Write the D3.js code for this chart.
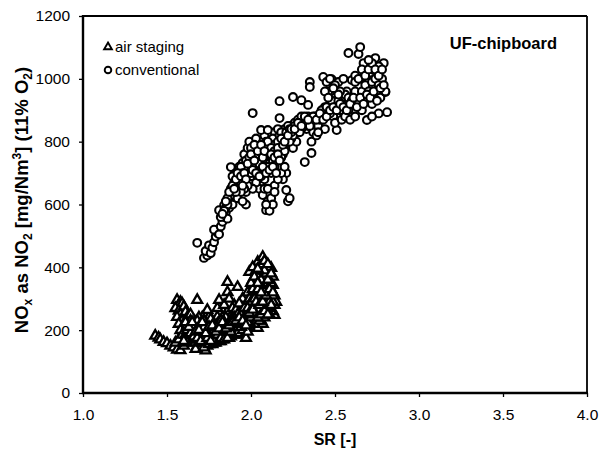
<!DOCTYPE html>
<html><head><meta charset="utf-8">
<script src="https://cdn.jsdelivr.net/npm/d3@7"></script>
<style>body{margin:0;background:#fff}svg{display:block;font-family:"Liberation Sans",Arial,sans-serif}</style>
</head><body><svg id="c" width="600" height="454"></svg>
<script>
const xTicks = [1.0, 1.5, 2.0, 2.5, 3.0, 3.5, 4.0];
const yTicks = [0, 200, 400, 600, 800, 1000, 1200];
const seriesNames = ["air staging", "conventional"];
const chartLabel = "UF-chipboard";

// conventional: [SR, NOx]
const conventional = [
[1.72,430],[1.74,438],[1.73,452],[1.76,445],[1.75,470],[1.68,478],[1.77,462],[1.78,480],[1.79,498],[1.80,510],
[1.78,520],[1.81,505],[1.82,530],[1.81,582],[1.83,545],[1.84,560],[1.85,575],[1.86,555],[1.84,598],[1.87,590],
[1.87,612],[1.88,630],[1.89,600],[1.90,640],[1.88,719],[1.91,660],[1.92,620],[1.93,680],[1.94,700],[1.95,732],
[1.93,650],[1.96,690],[1.97,640],[1.98,710],[1.99,670],[1.96,760],[1.98,780],[2.00,740],[2.00,690],[2.01,891],
[1.99,800],[1.97,600],[1.95,610],
[2.02,760],[2.03,720],[2.04,680],[2.05,790],[2.06,750],[2.07,700],[2.08,820],[2.09,770],[2.10,740],[2.05,650],
[2.07,630],[2.09,582],[2.11,580],[2.10,610],[2.12,800],[2.13,760],[2.14,830],[2.15,780],[2.12,700],[2.14,660],
[2.16,720],[2.17,875],[2.17,929],[2.18,800],[2.19,760],[2.20,840],[2.21,646],[2.22,610],[2.23,620],[2.21,700],
[2.19,680],[2.06,837],[2.03,810],[2.10,837],[2.16,840],
[2.22,790],[2.23,820],[2.24,850],[2.25,942],[2.25,780],[2.26,860],[2.27,800],[2.28,830],[2.29,870],[2.30,932],
[2.30,860],[2.31,859],[2.32,735],[2.33,840],[2.34,917],[2.35,990],[2.35,974],[2.36,764],[2.34,880],[2.36,800],
[2.37,830],[2.38,860],[2.39,820],[2.40,850],[2.41,870],[2.42,880],[2.43,1006],[2.44,910],[2.44,840],
[2.46,960],[2.47,920],[2.48,999],[2.49,880],[2.50,940],[2.51,837],[2.50,860],[2.52,990],[2.53,900],[2.54,870],
[2.55,940],[2.56,880],[2.57,960],[2.58,1082],[2.58,900],[2.59,870],[2.60,996],[2.61,920],[2.62,880],[2.63,950],
[2.64,1079],[2.65,1101],[2.65,1000],[2.66,900],[2.67,1050],[2.68,940],[2.69,869],[2.70,990],[2.71,1020],[2.72,920],
[2.73,1028],[2.74,1066],[2.75,960],[2.76,890],[2.77,940],[2.78,1000],[2.79,1050],[2.80,958],[2.81,894],[2.80,960],
[2.72,880],[2.76,1040],[2.62,1010],[2.55,1000],[2.57,920],[2.47,890],[2.40,830],
[2.00,720],[2.02,700],[2.04,740],[2.06,770],[2.08,730],[2.10,780],[2.11,760],[2.13,790],[2.15,810],[2.17,790],
[2.19,820],[2.20,790],[2.03,670],[2.05,710],[2.01,650],[1.98,660],[1.96,650],[1.94,640],[1.92,660],[2.08,680],
[2.12,740],[2.14,720],[2.18,750],[2.22,830],[2.24,810],[2.26,830],[2.28,850],[2.30,840],[2.32,860],[2.34,850],
[2.36,870],[2.38,880],[2.42,900],[2.45,910],[2.48,930],[2.50,910],[2.52,930],[2.54,920],[2.56,950],[2.58,940],
[2.60,930],[2.62,960],[2.64,920],[2.66,960],[2.68,980],[2.70,960],[2.72,990],[2.74,1000],[2.76,980],
[1.82,560],[1.85,590],[1.86,620],[1.88,650],[1.90,670],[1.91,700],[1.93,720],[1.95,680],[1.97,700],[1.99,720],
[2.01,760],[2.03,750],[2.05,760],[2.07,780],[2.09,800],[2.11,800],[2.13,810],[2.15,760],[2.17,770],[2.19,800],
[2.21,810],[2.23,800],[2.25,820],[2.27,840],[2.29,830],[2.31,870],[2.33,860],[2.35,850],[2.37,880],[2.39,870],
[2.41,890],[2.43,870],[2.45,880],[2.47,900],[2.49,910],[2.51,900],[2.53,920],[2.55,910],[2.57,900],[2.59,920],
[2.61,940],[2.63,910],[2.65,940],[2.67,920],[2.69,950],[2.71,940],[2.73,960],[2.75,930],[2.77,970],[2.79,980],
[1.94,670],[1.96,720],[2.00,700],[2.02,730],[2.04,710],[2.06,720],[2.08,760],[2.10,760],[2.12,770],[2.14,790],
[2.16,800],[2.18,780],[2.20,770],[2.08,650],[2.10,650],[2.12,620],[2.14,640],[2.16,680],[2.18,700],[2.20,720],
[2.13,600],[2.09,600],[2.45,990],[2.47,1000],[2.50,980],[2.53,960],[2.44,960],[2.46,940],[2.52,950],[2.49,970],
[1.89,660],[1.91,640],[1.92,690],[1.94,720],[1.95,700],[1.97,740],[1.99,750],[2.00,780],[2.01,710],[2.02,790],
[2.03,700],[2.04,760],[2.05,730],[2.06,690],[2.07,750],[2.08,790],[2.09,720],[2.10,800],[2.11,730],[2.12,780],
[2.13,740],[2.14,770],[2.15,740],[2.16,780],[2.17,820],[2.18,830],[2.19,790],[2.20,810],[2.21,830],[2.22,850],
[2.23,840],[2.24,830],[2.26,850],[2.28,870],[2.30,880],[2.32,880],[2.34,870],[1.86,600],[1.84,580],[1.83,570],
[1.85,610],[1.87,640],[1.89,690],[1.91,680],
[2.62,990],[2.64,1000],[2.66,1030],[2.68,1010],[2.70,1030],[2.72,1050],[2.74,1030],[2.76,1010],[2.78,1030],[2.70,1060],
[1.90,650],[1.92,700],[1.94,690],[1.96,700],[1.98,730],[2.00,760],[2.02,740],[2.04,770],[2.06,790],[2.08,770],
[2.10,720],[2.12,760],[2.14,750],[2.16,760],[2.18,810],[2.20,800],[2.22,820],[2.24,840],[2.26,840],[2.28,860],
[2.30,850],[2.05,690],[2.07,720],[2.09,700],[2.11,710],[2.13,720],[2.15,700],[2.17,740],[1.97,680],[1.95,660]
];

// air staging: [SR, NOx]
const airStaging = [
[1.43,182],[1.45,176],[1.46,170],[1.48,162],[1.50,158],[1.52,150],[1.54,145],[1.56,138],[1.58,136],[1.60,150],[1.55,160],[1.57,170],
[1.56,296],[1.58,290],[1.57,280],[1.59,285],[1.55,270],[1.57,262],[1.60,275],[1.58,250],[1.56,242],[1.61,258],[1.59,230],
[1.62,240],[1.57,220],[1.60,210],[1.63,225],[1.58,200],[1.61,195],[1.64,205],[1.59,185],[1.62,180],[1.65,190],
[1.63,165],[1.65,175],[1.66,160],[1.67,185],[1.68,150],[1.69,170],[1.70,140],[1.70,195],[1.71,160],[1.72,180],
[1.73,135],[1.73,210],[1.74,150],[1.75,170],[1.75,242],[1.74,264],[1.76,190],[1.77,155],[1.78,175],[1.78,220],
[1.79,160],[1.80,200],[1.80,242],[1.80,270],[1.81,296],[1.81,180],[1.82,165],[1.83,195],[1.84,210],[1.85,175],
[1.86,230],[1.86,260],[1.86,321],[1.87,190],[1.88,180],[1.88,245],[1.89,210],[1.90,200],[1.90,280],[1.91,190],
[1.92,337],[1.92,230],[1.93,207],[1.93,260],[1.94,185],[1.95,300],[1.95,220],[1.96,250],[1.97,175],[1.97,280],
[1.98,210],[1.86,353],[1.68,296],[1.66,230],[1.64,250],[1.69,215],[1.71,240],[1.76,215],[1.83,240],[1.84,280],
[1.87,300],[1.89,270],[1.67,140],[1.72,145],[1.77,200],[1.82,210],[1.91,250],
[1.99,385],[2.00,330],[2.00,260],[2.01,300],[2.01,230],[2.02,350],[2.02,280],[2.03,210],[2.03,320],[2.04,417],
[2.04,370],[2.04,207],[2.05,250],[2.05,300],[2.06,340],[2.06,390],[2.07,433],[2.07,270],[2.07,220],[2.08,360],
[2.08,300],[2.09,407],[2.09,250],[2.10,330],[2.10,380],[2.11,280],[2.11,350],[2.12,398],[2.12,300],[2.13,344],
[2.13,260],[2.14,248],[2.14,310],[2.15,290],[1.99,240],[1.98,320],[2.02,240],[2.06,230],[2.08,330],[2.10,300],
[2.12,260],[1.96,200],[1.99,270],[2.01,360],[2.05,400],[2.03,270],
[1.62,160],[1.64,175],[1.66,190],[1.68,200],[1.70,180],[1.72,165],[1.74,185],[1.76,175],[1.78,190],[1.80,175],
[1.82,185],[1.84,195],[1.86,200],[1.88,210],[1.90,220],[1.92,210],[1.94,230],[1.96,230],[1.98,240],[2.00,220],
[2.02,260],[2.04,280],[2.06,300],[2.08,280],[2.10,270],[2.12,330],[2.14,280],[1.65,210],[1.67,225],[1.69,240],
[1.71,205],[1.73,225],[1.75,195],[1.77,230],[1.79,210],[1.81,225],[1.83,215],[1.85,240],[1.87,225],[1.89,240],
[1.91,265],[1.93,285],[1.95,260],[1.97,250],[1.99,300],[2.01,330],[2.03,350],[2.05,330],[2.07,320],[2.09,350],
[2.11,310],[2.13,290],[1.61,170],[1.63,200],[1.66,170],[1.69,160],[1.72,195],[1.75,155],[1.78,160],[1.81,165],
[1.84,180],[1.87,175],[1.90,185],[1.93,195],[1.96,210],[1.99,210],[2.02,220],[2.05,230],[2.08,240],[2.11,250],
[2.00,290],[2.04,310],[2.06,360],[2.09,380],[2.11,400],[2.13,370],[2.07,410],[2.03,390],[2.01,400],
[1.61,185],[1.63,190],[1.65,200],[1.67,205],[1.69,185],[1.71,190],[1.73,175],[1.75,185],[1.77,170],[1.79,185],
[1.81,195],[1.83,180],[1.85,190],[1.87,205],[1.89,195],[1.91,205],[1.93,220],[1.95,240],[1.97,230],[1.99,225],
[2.01,245],[2.03,240],[2.05,265],[2.07,250],[2.09,265],[2.11,290],[2.13,310],
[1.62,215],[1.64,230],[1.66,215],[1.68,230],[1.70,220],[1.72,230],[1.74,200],[1.76,235],[1.78,205],[1.80,220],
[1.82,230],[1.84,225],[1.86,215],[1.88,230],[1.90,240],[1.92,250],[1.94,250],[1.96,270],[1.98,270],[2.00,245],
[2.02,300],[2.04,330],[2.06,280],[2.08,320],[2.10,350],[2.12,350],
[1.63,185],[1.67,170],[1.71,175],[1.74,165],[1.77,185],[1.80,190],[1.83,170],[1.86,185],[1.89,190],[1.92,190],
[1.95,200],[1.98,195],
[1.60,165],[1.62,200],[1.64,190],[1.66,180],[1.68,175],[1.70,165],[1.72,210],[1.74,175],[1.76,165],[1.78,200],
[1.80,185],[1.82,175],[1.84,170],[1.86,175],[1.88,195],[1.90,210],[1.92,220],[1.94,210],[1.96,220],[1.98,225],
[2.00,240],[2.02,250],[2.04,240],[2.06,250],[2.08,260],[2.10,250],[2.12,280],
[1.61,225],[1.63,210],[1.65,225],[1.67,195],[1.69,200],[1.71,225],[1.73,190],[1.75,210],[1.77,215],[1.79,195],
[1.81,205],[1.83,225],[1.85,205],[1.87,215],[1.89,225],[1.91,230],[1.93,240],[1.95,230],[1.97,215],[1.99,255],
[2.01,265],[2.03,290],[2.05,280],[2.07,290],[2.09,310],[2.11,330],[2.13,320],
[2.00,350],[2.02,370],[2.04,350],[2.06,320],[2.08,390],[2.10,360],[2.12,380],[2.04,395],[2.08,420],[2.10,410]
];

const svg = d3.select("#c");
const x = d3.scaleLinear().domain([1, 4]).range([83, 587]);
const y = d3.scaleLinear().domain([0, 1200]).range([393, 16]);

// axes
const gx = svg.append("g").attr("transform", "translate(0,393)")
  .call(d3.axisBottom(x).tickValues(xTicks).tickFormat(d3.format(".1f")).tickSize(4).tickPadding(12));
const gy = svg.append("g").attr("transform", "translate(83,0)")
  .call(d3.axisLeft(y).tickValues(yTicks).tickFormat(d3.format("d")).tickSize(4).tickPadding(9));
[gx, gy].forEach(g => {
  g.select(".domain").remove();
  g.selectAll(".tick line").attr("stroke", "#000").attr("stroke-width", 1.3);
  g.selectAll(".tick text").attr("font-size", 15.5).attr("fill", "#000")
    .attr("font-family", "'Liberation Sans',Arial,sans-serif");
});

// frame
svg.append("line").attr("x1", 83).attr("x2", 587).attr("y1", 16).attr("y2", 16).attr("stroke", "#000").attr("stroke-width", 1.8);
svg.append("line").attr("x1", 587).attr("x2", 587).attr("y1", 16).attr("y2", 393).attr("stroke", "#000").attr("stroke-width", 1.8);
svg.append("line").attr("x1", 83).attr("x2", 83).attr("y1", 15).attr("y2", 394).attr("stroke", "#000").attr("stroke-width", 2.4);
svg.append("line").attr("x1", 82).attr("x2", 588).attr("y1", 393).attr("y2", 393).attr("stroke", "#000").attr("stroke-width", 2.4);

// data
svg.append("g").selectAll("circle").data(conventional).join("circle")
  .attr("cx", d => x(d[0])).attr("cy", d => y(d[1])).attr("r", 3.9)
  .attr("fill", "#fff").attr("stroke", "#000").attr("stroke-width", 2.1);

const tri = d3.symbol().type(d3.symbolTriangle).size(42);
svg.append("g").selectAll("path").data(airStaging).join("path")
  .attr("d", tri).attr("transform", d => `translate(${x(d[0])},${y(d[1])})`)
  .attr("fill", "#fff").attr("stroke", "#000").attr("stroke-width", 2.3);

// legend
const leg = svg.append("g").attr("font-size", 15);
leg.append("path").attr("d", d3.symbol().type(d3.symbolTriangle).size(26)())
  .attr("transform", "translate(108,47)").attr("fill", "#fff").attr("stroke", "#000").attr("stroke-width", 1.9);
leg.append("text").attr("x", 115).attr("y", 52).text(seriesNames[0]);
leg.append("circle").attr("cx", 108).attr("cy", 70).attr("r", 3.3)
  .attr("fill", "#fff").attr("stroke", "#000").attr("stroke-width", 1.9);
leg.append("text").attr("x", 115).attr("y", 75).text(seriesNames[1]);

svg.append("text").attr("x", 557).attr("y", 49).attr("text-anchor", "end")
  .attr("font-size", 16.5).attr("font-weight", "bold").text(chartLabel);

// axis titles
svg.append("text").attr("x", 335).attr("y", 445).attr("text-anchor", "middle")
  .attr("font-size", 16).attr("font-weight", "bold").text("SR [-]");

const yt = svg.append("text").attr("transform", "translate(28,200) rotate(-90)")
  .attr("text-anchor", "middle").attr("font-size", 18.5).attr("font-weight", "bold");
yt.append("tspan").text("NO");
yt.append("tspan").attr("font-size", 12).attr("dy", 4).text("x");
yt.append("tspan").attr("dy", -4).text(" as NO");
yt.append("tspan").attr("font-size", 12).attr("dy", 4).text("2");
yt.append("tspan").attr("dy", -4).text(" [mg/Nm");
yt.append("tspan").attr("font-size", 12).attr("dy", -7).text("3");
yt.append("tspan").attr("dy", 7).text("] (11% O");
yt.append("tspan").attr("font-size", 12).attr("dy", 4).text("2");
yt.append("tspan").attr("dy", -4).text(")");
</script></body></html>
